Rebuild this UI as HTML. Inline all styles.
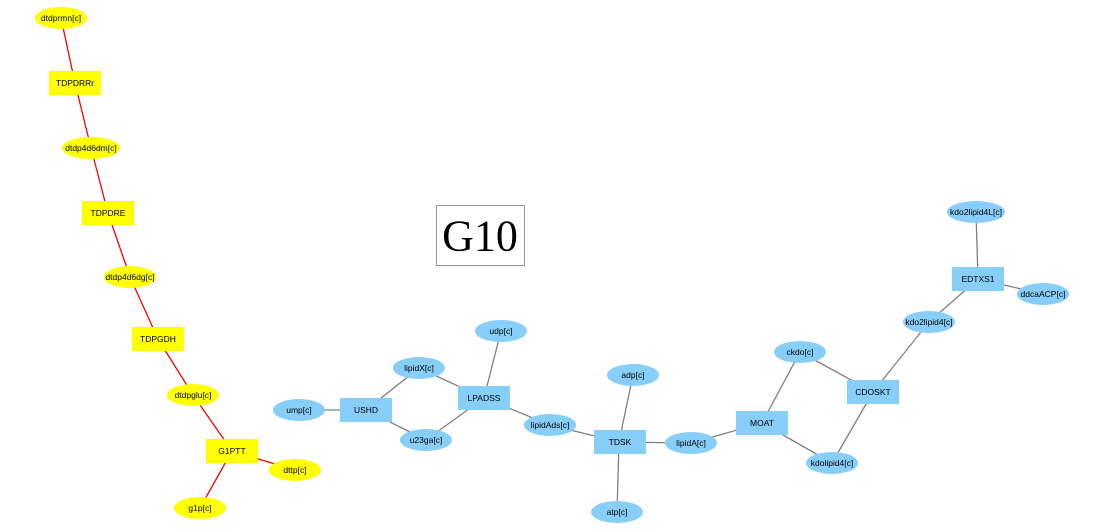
<!DOCTYPE html>
<html><head><meta charset="utf-8"><style>body{margin:0;background:#fff}svg{display:block}text{font-family:"Liberation Sans",sans-serif;font-size:8.5px;text-anchor:middle;dominant-baseline:central;fill:#000}</style></head><body>
<svg width="1105" height="529" xmlns="http://www.w3.org/2000/svg">
<g stroke="#ff0000" stroke-width="1.3">
<line x1="61" y1="18" x2="75" y2="83"/><line x1="75" y1="83" x2="91" y2="148"/><line x1="91" y1="148" x2="108" y2="213"/><line x1="108" y1="213" x2="130" y2="277"/><line x1="130" y1="277" x2="158" y2="339"/><line x1="158" y1="339" x2="193" y2="395"/><line x1="193" y1="395" x2="232" y2="451"/><line x1="232" y1="451" x2="295" y2="470"/><line x1="232" y1="451" x2="200" y2="508"/>
</g>
<g stroke="#808080" stroke-width="1.3">
<line x1="299" y1="410" x2="366" y2="410"/><line x1="366" y1="410" x2="419" y2="368"/><line x1="366" y1="410" x2="426" y2="440"/><line x1="419" y1="368" x2="484" y2="398"/><line x1="426" y1="440" x2="484" y2="398"/><line x1="484" y1="398" x2="501" y2="331"/><line x1="484" y1="398" x2="550" y2="425"/><line x1="550" y1="425" x2="619" y2="442"/><line x1="619" y1="442" x2="633" y2="375"/><line x1="619" y1="442" x2="617" y2="512"/><line x1="619" y1="442" x2="691" y2="443"/><line x1="691" y1="443" x2="762" y2="423"/><line x1="762" y1="423" x2="800" y2="352"/><line x1="762" y1="423" x2="832" y2="463"/><line x1="800" y1="352" x2="873" y2="392"/><line x1="832" y1="463" x2="873" y2="392"/><line x1="873" y1="392" x2="929" y2="322"/><line x1="929" y1="322" x2="978" y2="279"/><line x1="978" y1="279" x2="976" y2="212"/><line x1="978" y1="279" x2="1043" y2="294"/>
</g>
<g fill="#ffff00">
<ellipse cx="61" cy="18" rx="26" ry="11"/><rect x="49" y="71" width="52" height="24"/><ellipse cx="91" cy="148" rx="29" ry="11"/><rect x="82" y="201" width="52" height="24"/><ellipse cx="130" cy="277" rx="26" ry="11"/><rect x="132" y="327" width="52" height="24"/><ellipse cx="193" cy="395" rx="26" ry="11"/><rect x="206" y="439" width="52" height="24"/><ellipse cx="295" cy="470" rx="26" ry="11"/><ellipse cx="200" cy="508" rx="26" ry="11"/>
</g>
<g fill="#87cefa">
<ellipse cx="299" cy="410" rx="26" ry="11"/><rect x="340" y="398" width="52" height="24"/><ellipse cx="419" cy="368" rx="26" ry="11"/><ellipse cx="426" cy="440" rx="26" ry="11"/><rect x="458" y="386" width="52" height="24"/><ellipse cx="501" cy="331" rx="26" ry="11"/><ellipse cx="550" cy="425" rx="26" ry="11"/><rect x="594" y="430" width="52" height="24"/><ellipse cx="633" cy="375" rx="26" ry="11"/><ellipse cx="617" cy="512" rx="26" ry="11"/><ellipse cx="691" cy="443" rx="26" ry="11"/><rect x="736" y="411" width="52" height="24"/><ellipse cx="800" cy="352" rx="26" ry="11"/><ellipse cx="832" cy="463" rx="26" ry="11"/><rect x="847" y="380" width="52" height="24"/><ellipse cx="929" cy="322" rx="26" ry="11"/><rect x="952" y="267" width="52" height="24"/><ellipse cx="976" cy="212" rx="29" ry="11"/><ellipse cx="1043" cy="294" rx="26" ry="11"/>
</g>
<text x="61" y="18">dtdprmn[c]</text><text x="75" y="83">TDPDRRr</text><text x="91" y="148">dtdp4d6dm[c]</text><text x="108" y="213">TDPDRE</text><text x="130" y="277">dtdp4d6dg[c]</text><text x="158" y="339">TDPGDH</text><text x="193" y="395">dtdpglu[c]</text><text x="232" y="451">G1PTT</text><text x="295" y="470">dttp[c]</text><text x="200" y="508">g1p[c]</text>
<text x="299" y="410">ump[c]</text><text x="366" y="410">USHD</text><text x="419" y="368">lipidX[c]</text><text x="426" y="440">u23ga[c]</text><text x="484" y="398">LPADSS</text><text x="501" y="331">udp[c]</text><text x="550" y="425">lipidAds[c]</text><text x="620" y="442">TDSK</text><text x="633" y="375">adp[c]</text><text x="617" y="512">atp[c]</text><text x="691" y="443">lipidA[c]</text><text x="762" y="423">MOAT</text><text x="800" y="352">ckdo[c]</text><text x="832" y="463">kdolipid4[c]</text><text x="873" y="392">CDOSKT</text><text x="929" y="322">kdo2lipid4[c]</text><text x="978" y="279">EDTXS1</text><text x="976" y="212">kdo2lipid4L[c]</text><text x="1043" y="294">ddcaACP[c]</text>
<rect x="436.5" y="205.5" width="88" height="60" fill="#fff" stroke="#999"/>
<text x="480" y="236" style="font-family:'Liberation Serif',serif;font-size:44px">G10</text>
</svg>
</body></html>
